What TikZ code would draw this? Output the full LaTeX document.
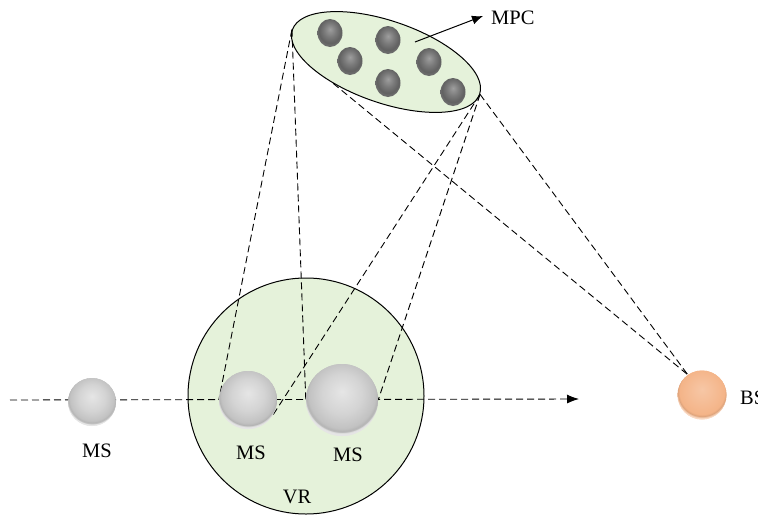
\documentclass[tikz,border=0pt]{standalone}
\usepackage{fontspec}
\setmainfont{Liberation Serif}
\usetikzlibrary{shapes.geometric,arrows.meta,shadings}
\definecolor{greenfill}{RGB}{229,242,218}
\definecolor{peach}{RGB}{244,180,136}
\pgfdeclareradialshading{msshade}{\pgfpoint{0bp}{6bp}}{%
  color(0bp)=(black!10); color(14bp)=(black!17); color(23bp)=(black!24);
  color(25bp)=(black!30); color(26bp)=(black!10); color(50bp)=(black!10)}
\pgfdeclareradialshading{darkshade}{\pgfpoint{0bp}{7bp}}{%
  color(0bp)=(black!38); color(12bp)=(black!52); color(22bp)=(black!62);
  color(25bp)=(black!58); color(50bp)=(black!58)}
\pgfdeclareradialshading{bsshade}{\pgfpoint{0bp}{6bp}}{%
  color(0bp)=(peach!75!white); color(14bp)=(peach!90!white); color(23bp)=(peach);
  color(25bp)=(peach!90!black); color(26bp)=(peach!50!white); color(50bp)=(peach!50!white)}
\tikzset{
  region/.style={draw=black,line width=1pt,fill=greenfill},
  darkball/.style={ellipse,inner sep=0pt,minimum width=25pt,minimum height=28pt,shading=darkshade},
  msball/.style={circle,inner sep=0pt,shading=msshade},
  bsball/.style={circle,inner sep=0pt,shading=bsshade},
  link/.style={line width=0.9pt,dash pattern=on 7pt off 4pt},
  lbl/.style={font=\fontsize{20.5}{23}\selectfont,inner sep=0pt}
}
\begin{document}
\begin{tikzpicture}[x=1pt,y=-1pt]
\useasboundingbox (0,0) rectangle (758,517);
% regions
\node[region,circle,minimum size=236pt,inner sep=0pt] (vr) at (306,396) {};
\node[region,ellipse,minimum width=198pt,minimum height=82pt,inner sep=0pt,rotate=-19] (mpc) at (386,62) {};
% scatterers
\node[darkball] (s1) at (330,33) {};
\node[darkball] (s2) at (388,40) {};
\node[darkball] (s3) at (350,61) {};
\node[darkball] (s4) at (429,62) {};
\node[darkball] (s5) at (388,83) {};
\node[darkball] (s6) at (453,92) {};
% MPC arrow
\coordinate (mpcin) at (415,42);
\coordinate (mpctip) at (483,16);
\draw[line width=1pt,-{Latex[length=11pt,width=9pt]}] (mpcin) -- (mpctip);
\node[lbl,anchor=west] (mpclbl) at (491,18) {MPC};
% stations
\node[msball,minimum size=48pt] (ms1) at (92,402) {};
\path (248,400) coordinate (c2) (342,400) coordinate (c3) (702,395) coordinate (c4);
\node[msball,minimum size=58pt] (ms2) at (c2) {};
\node[msball,minimum size=72pt] (ms3) at (c3) {};
\node[bsball,minimum size=49pt] (bs) at (c4) {};
% trajectory
\coordinate (trs) at (10,400);
\coordinate (tre) at (579,399);
\draw[link,-{Latex[length=12pt,width=9pt]}] (trs) -- (tre);
% dashed paths
\draw[link] (mpc.180) -- (ms2.180);
\draw[link] (mpc.180) -- (ms3.180);
\draw[link] (mpc.0) -- (ms2.-37);
\draw[link] (mpc.0) -- (ms3.0);
\draw[link] (mpc.0) -- (bs.125);
\draw[link] (mpc.221) -- (bs.125);
% redraw balls on top
\node[msball,minimum size=48pt] at (ms1) {};
\node[msball,minimum size=58pt] at (ms2) {};
\node[msball,minimum size=72pt] at (ms3) {};
\node[bsball,minimum size=49pt] at (bs) {};
% labels
\node[lbl] (l1) at (97,451) {MS};
\node[lbl] (l2) at (251,453) {MS};
\node[lbl] (l3) at (348,455) {MS};
\node[lbl] (l4) at (297,497) {VR};
\node[lbl,anchor=west] (l5) at (740,398) {BS};
\end{tikzpicture}
\end{document}
